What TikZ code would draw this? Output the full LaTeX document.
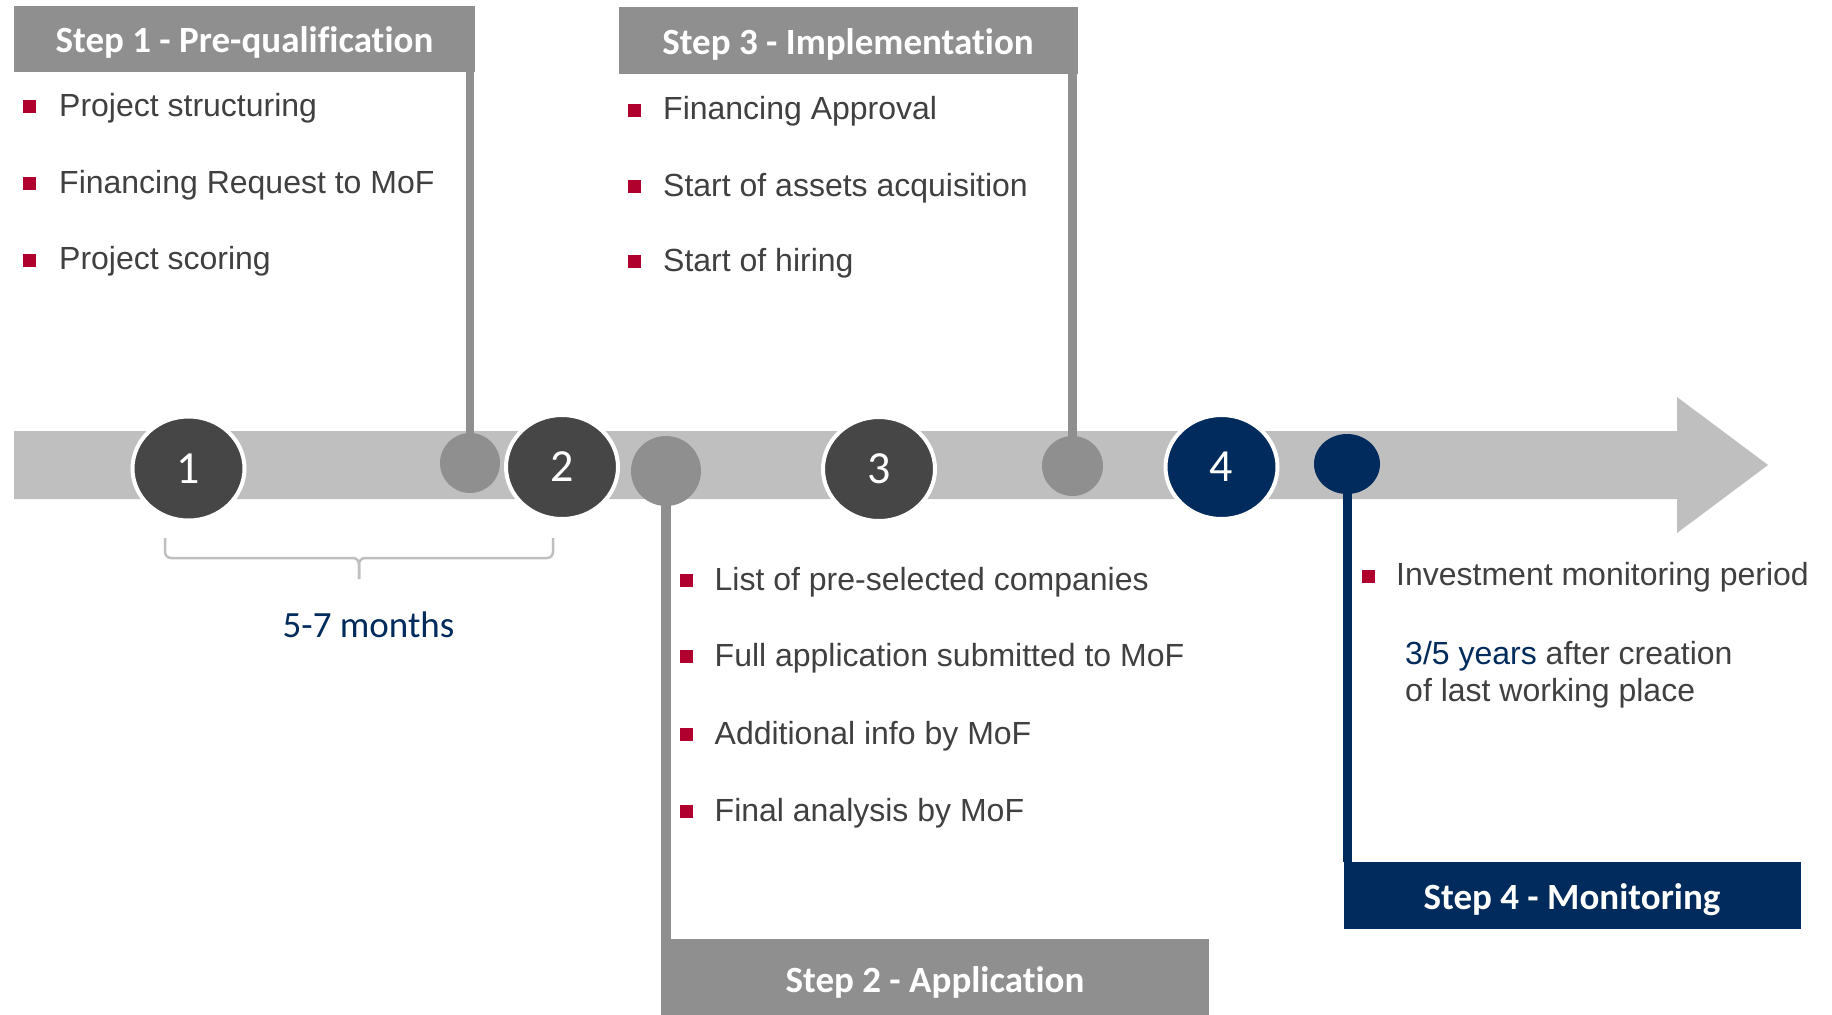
\documentclass[tikz,border=0pt]{standalone}
\usepackage{fontspec}
\setmainfont{Liberation Sans}
\newfontfamily\carlito[Ligatures=NoCommon]{Carlito}
\usetikzlibrary{shapes.geometric}
\definecolor{hdrgray}{HTML}{8F8F8F}
\definecolor{bandgray}{HTML}{BFBFBF}
\definecolor{darkc}{HTML}{464646}
\definecolor{navy}{HTML}{002B5C}
\definecolor{bred}{HTML}{B0002E}
\definecolor{txt}{HTML}{404040}
\newcommand\bulitem[5]{%
  \node[bul] (#1b) at (#2,#4-9.5) {};
  \node[btxt] (#1) at (#3,#4) {#5};}
\begin{document}
\begin{tikzpicture}[x=1pt,y=-1pt,
  hdr/.style={rectangle, fill=hdrgray, inner sep=0pt},
  hdrtxt/.style={anchor=base, inner sep=0pt, text=white, font=\carlito\bfseries\fontsize{37}{44}\selectfont},
  bignum/.style={ellipse, draw=white, line width=4pt, minimum width=112pt, minimum height=104pt, text=white, font=\carlito\fontsize{46}{50}\selectfont, inner sep=0pt},
  dot/.style={ellipse, inner sep=0pt},
  stem/.style={line width=8.5pt, draw=hdrgray},
  bul/.style={rectangle, fill=bred, minimum size=13pt, inner sep=0pt},
  btxt/.style={anchor=base west, inner sep=0pt, text=txt, font=\fontsize{32}{36.8}\selectfont},
  brace/.style={draw=bandgray, line width=2.5pt, rounded corners=6pt},
]
\fill[white] (0,0) rectangle (1832,1015);
\path[use as bounding box] (0,0) rectangle (1832,1015);

% timeline arrow
\fill[bandgray] (14,431) -- (1677,431) -- (1677,397) -- (1768,465) -- (1677,533) -- (1677,499) -- (14,499) -- cycle;

% headers
\node[hdr, minimum width=461pt, minimum height=66pt] (h1) at (244.5,39) {};
\node[hdrtxt] (h1t) at (244.5,52) {Step 1 - Pre-qualification};
\node[hdr, minimum width=459pt, minimum height=67pt] (h3) at (848.5,40.5) {};
\node[hdrtxt] (h3t) at (848,54) {Step 3 - Implementation};
\node[hdr, minimum width=548pt, minimum height=78pt] (h2) at (935,978) {};
\node[hdrtxt] (h2t) at (935,992) {Step 2 - Application};
\node[hdr, fill=navy, minimum width=457pt, minimum height=67pt] (h4) at (1572.5,895.5) {};
\node[hdrtxt] (h4t) at (1572,909) {Step 4 - Monitoring};

% small dots
\node[dot, fill=hdrgray, minimum width=60pt, minimum height=60pt] (d1) at (470,463) {};
\node[dot, fill=hdrgray, minimum width=70pt, minimum height=70pt] (d2) at (666,471) {};
\node[dot, fill=hdrgray, minimum width=61pt, minimum height=60pt] (d3) at (1072.5,466) {};
\node[dot, fill=navy, minimum width=66pt, minimum height=60pt] (d4) at (1347,464) {};

% stems
\draw[stem] (d1.center |- h1.south) -- (d1.center);
\draw[stem, line width=9.5pt] (d2.center) -- (d2.center |- h2.north);
\draw[stem, line width=9pt] (d3.center |- h3.south) -- (d3.center);
\draw[stem, draw=navy, line width=9pt] (d4.center) -- (d4.center |- h4.north);

% big numbered circles
\node[bignum, fill=darkc] (c1) at (188.5,468.5) {1};
\node[bignum, fill=darkc] (c2) at (562,467) {2};
\node[bignum, fill=darkc] (c3) at (879,469) {3};
\node[bignum, fill=navy] (c4) at (1221.5,467) {4};

% brace
\draw[brace] (165,538) -- (165,558) -- (359,558) -- (359,579);
\draw[brace] (553,538) -- (553,558) -- (359,558) -- (359,579);
\node[anchor=base, inner sep=0pt, text=navy, font=\carlito\fontsize{37}{44}\selectfont] (months) at (368.5,637) {5-7 months};

% step 1 items
\bulitem{a1}{29.5}{59}{116}{Project structuring}
\bulitem{a2}{29.5}{59}{193}{Financing Request to MoF}
\bulitem{a3}{29.5}{59}{269.5}{Project scoring}
% step 3 items
\bulitem{c31}{634.5}{663}{119.5}{Financing Approval}
\bulitem{c32}{634.5}{663}{196}{Start of assets acquisition}
\bulitem{c33}{634.5}{663}{271}{Start of hiring}
% step 2 items
\bulitem{b1}{686}{714.5}{590}{List of pre-selected companies}
\bulitem{b2}{686}{714.5}{666}{Full application submitted to MoF}
\bulitem{b3}{686}{714.5}{744}{Additional info by MoF}
\bulitem{b4}{686}{714.5}{821}{Final analysis by MoF}
% step 4 items
\bulitem{e1}{1368.5}{1396}{585.5}{Investment monitoring period}
\node[btxt] (e2) at (1405,664.5) {\textcolor{navy}{3/5 years} after creation};
\node[btxt] (e3) at (1405,701) {of last working place};
\end{tikzpicture}
\end{document}
